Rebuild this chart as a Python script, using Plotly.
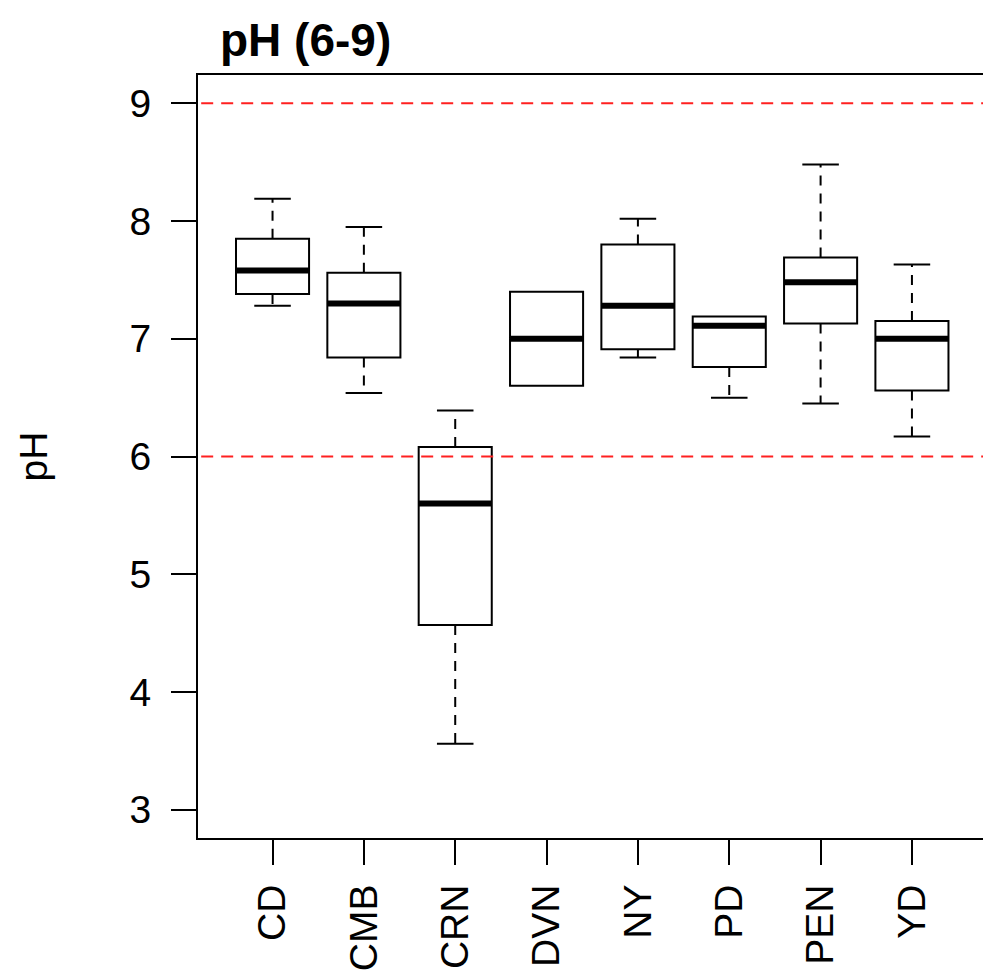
import plotly.graph_objects as go

# ---- data ----
sites = ["CD", "CMB", "CRN", "DVN", "NY", "PD", "PEN", "YD"]
positions = [1, 2, 3, 4, 5, 6, 7, 8]
lower = [7.28, 6.54, 3.56, 6.60, 6.84, 6.50, 6.45, 6.17]
q1 = [7.38, 6.84, 4.57, 6.60, 6.91, 6.76, 7.13, 6.56]
median = [7.58, 7.30, 5.60, 7.00, 7.28, 7.11, 7.48, 7.00]
q3 = [7.85, 7.56, 6.08, 7.40, 7.80, 7.19, 7.69, 7.15]
upper = [8.19, 7.95, 6.39, 7.40, 8.02, 7.19, 8.48, 7.63]
limits = [6, 9]
yticks = [3, 4, 5, 6, 7, 8, 9]

BOXW = 0.8
CAPW = 0.4
FONT = "Liberation Sans, Arial, sans-serif"

fig = go.Figure()

# reference limit lines
for lv in limits:
    fig.add_trace(go.Scatter(x=[0.0, 9.0], y=[lv, lv], mode="lines",
                             line=dict(color="#FF2020", width=2, dash="12px,8px"),
                             hoverinfo="skip", showlegend=False))

# whiskers (dashed) and caps (solid)
wx, wy, cx, cy = [], [], [], []
for p, lo, a, b, hi in zip(positions, lower, q1, q3, upper):
    if hi > b:
        wx += [p, p, None]; wy += [b, hi, None]
        cx += [p - CAPW / 2, p + CAPW / 2, None]; cy += [hi, hi, None]
    if lo < a:
        wx += [p, p, None]; wy += [a, lo, None]
        cx += [p - CAPW / 2, p + CAPW / 2, None]; cy += [lo, lo, None]
fig.add_trace(go.Scatter(x=wx, y=wy, mode="lines",
                         line=dict(color="black", width=2, dash="10px,8px"),
                         hoverinfo="skip", showlegend=False))
fig.add_trace(go.Scatter(x=cx, y=cy, mode="lines",
                         line=dict(color="black", width=2),
                         hoverinfo="skip", showlegend=False))

# boxes
fig.add_trace(go.Box(x=positions, q1=q1, median=median, q3=q3,
                     lowerfence=q1, upperfence=q3, width=BOXW,
                     whiskerwidth=0, boxpoints=False,
                     fillcolor="white", line=dict(color="black", width=2),
                     showlegend=False))

# thick medians
mx, my = [], []
for p, m in zip(positions, median):
    mx += [p - BOXW / 2, p + BOXW / 2, None]; my += [m, m, None]
fig.add_trace(go.Scatter(x=mx, y=my, mode="lines",
                         line=dict(color="black", width=6),
                         hoverinfo="skip", showlegend=False))

fig.update_layout(
    width=983, height=972,
    margin=dict(l=198, r=0, t=75, b=134, autoexpand=False),
    paper_bgcolor="white", plot_bgcolor="white",
    font=dict(family=FONT, color="black", size=39),
    showlegend=False,
    title=dict(text="<b>pH (6-9)</b>", font=dict(size=46, family=FONT),
               xref="container", yref="container", automargin=False,
               x=220 / 983, xanchor="left", y=1 - 40 / 972, yanchor="middle"),
    xaxis=dict(range=[0.184, 8.778], tickmode="array", tickvals=positions,
               ticktext=sites, tickangle=-90, ticks="outside", ticklen=25,
               tickwidth=2, tickcolor="black", showgrid=False, zeroline=False,
               showline=True, linecolor="black", linewidth=2, mirror=True,
               automargin=False,
               ticklabelstandoff=4, tickfont=dict(size=39)),
    yaxis=dict(range=[2.76, 9.24], tickmode="array", tickvals=yticks,
               ticks="outside", ticklen=25, tickwidth=2, tickcolor="black",
               showgrid=False, zeroline=False, showline=True,
               linecolor="black", linewidth=2, mirror=False,
               automargin=False,
               ticklabelstandoff=12, tickfont=dict(size=39)),
    annotations=[dict(text="pH", textangle=-90, xref="paper", yref="paper",
                      x=(33 - 198) / 785, y=0.5, xanchor="center",
                      yanchor="middle", showarrow=False,
                      font=dict(size=39, family=FONT))],
)

fig.write_html("out.html")
